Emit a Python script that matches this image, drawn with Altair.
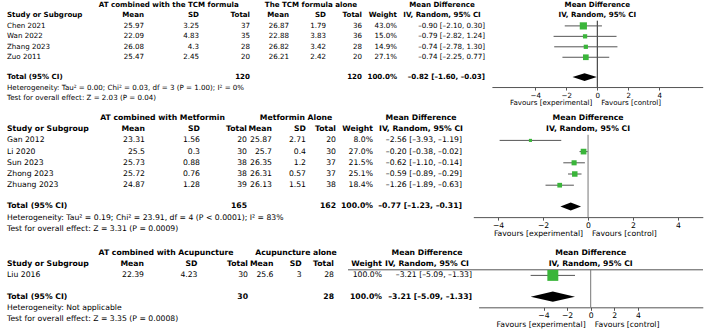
import altair as alt
import pandas as pd

FONT = "DejaVu Sans"
GREEN = "#3ab53a"
DASH = "\u2013"

# ---------------- Panel 1 data ----------------
p1_groups = ["AT combined with the TCM formula", "The TCM formula alone"]
p1_study = ["Chen 2021", "Wan 2022", "Zhang 2023", "Zuo 2011"]
p1_e_mean = [25.97, 22.09, 26.08, 25.47]
p1_e_sd = [3.25, 4.83, 4.3, 2.45]
p1_e_n = [37, 35, 28, 20]
p1_c_mean = [26.87, 22.88, 26.82, 26.21]
p1_c_sd = [1.79, 3.83, 3.42, 2.42]
p1_c_n = [36, 36, 28, 20]
p1_weight = [43.0, 15.0, 14.9, 27.1]
p1_md = [-0.90, -0.79, -0.74, -0.74]
p1_lo = [-2.10, -2.82, -2.78, -2.25]
p1_hi = [0.30, 1.24, 1.30, 0.77]
p1_tot_n = [120, 120]
p1_tot_ci = [-0.82, -1.60, -0.03]
p1_het = "Heterogeneity: Tau² = 0.00; Chi² = 0.03, df = 3 (P = 1.00); I² = 0%"
p1_test = "Test for overall effect: Z = 2.03 (P = 0.04)"

# ---------------- Panel 2 data ----------------
p2_groups = ["AT combined with Metformin", "Metformin Alone"]
p2_study = ["Gan 2012", "Li 2020", "Sun 2023", "Zhong 2023", "Zhuang 2023"]
p2_e_mean = [23.31, 25.5, 25.73, 25.72, 24.87]
p2_e_sd = [1.56, 0.3, 0.88, 0.76, 1.28]
p2_e_n = [20, 30, 38, 38, 39]
p2_c_mean = [25.87, 25.7, 26.35, 26.31, 26.13]
p2_c_sd = [2.71, 0.4, 1.2, 0.57, 1.51]
p2_c_n = [20, 30, 37, 37, 38]
p2_weight = [8.0, 27.0, 21.5, 25.1, 18.4]
p2_md = [-2.56, -0.20, -0.62, -0.59, -1.26]
p2_lo = [-3.93, -0.38, -1.10, -0.89, -1.89]
p2_hi = [-1.19, -0.02, -0.14, -0.29, -0.63]
p2_tot_n = [165, 162]
p2_tot_ci = [-0.77, -1.23, -0.31]
p2_het = "Heterogeneity: Tau² = 0.19; Chi² = 23.91, df = 4 (P < 0.0001); I² = 83%"
p2_test = "Test for overall effect: Z = 3.31 (P = 0.0009)"

# ---------------- Panel 3 data ----------------
p3_groups = ["AT combined with Acupuncture", "Acupuncture alone"]
p3_study = ["Liu 2016"]
p3_e_mean = [22.39]
p3_e_sd = [4.23]
p3_e_n = [30]
p3_c_mean = [25.6]
p3_c_sd = [3]
p3_c_n = [28]
p3_weight = [100.0]
p3_md = [-3.21]
p3_lo = [-5.09]
p3_hi = [-1.33]
p3_tot_n = [30, 28]
p3_tot_ci = [-3.21, -5.09, -1.33]
p3_het = "Heterogeneity: Not applicable"
p3_test = "Test for overall effect: Z = 3.35 (P = 0.0008)"

TICKS = [-4, -2, 0, 2, 4]

# ---------------- Layout / style (not data) ----------------
LAY1 = dict(H=110, off=5, s=10.45, fs=7.1,
            cols=dict(mean=144, sd=199, n=250, cmean=289, csd=326, cn=362, w=397, md=485),
            g1=168.7, g2=311, mdh=442, dom=6.8, rng=(491.9, 702.7), dia=0.38, sq=1.2,
            zc="#222", hline=False)
LAY2 = dict(H=133, off=8, s=11.2, fs=7.7,
            cols=dict(mean=145, sd=200, n=247, cmean=272, csd=306, cn=336, w=373, md=462),
            g1=162.5, g2=296, mdh=421, dom=5.1, rng=(473.3, 702.8), dia=0.36, sq=1.5,
            zc="#777", hline=False)
LAY3 = dict(H=88, off=10, s=11.2, fs=7.7,
            cols=dict(mean=144, sd=197.5, n=248, cmean=273.5, csd=301.7, cn=334, w=382, md=472),
            g1=166, g2=296, mdh=427, dom=9.5, rng=(478.6, 702.8), dia=0.46, sq=1.65,
            zc="#777", hline=True)


def num(v):
    return str(v).replace("-", DASH)


def ci_txt(m, l, h):
    return f"{m:.2f} [{l:.2f}, {h:.2f}]".replace("-", DASH)


def build_panel(groups, study, e_mean, e_sd, e_n, c_mean, c_sd, c_n, weight,
                md, lo, hi, tot_n, tot_ci, het, test, L):
    n = len(study)
    s, H, off, fs = L["s"], L["H"], L["off"], L["fs"]
    r_min, r_max = -off / s, (H - off) / s
    ysc = alt.Scale(domain=[r_min, r_max], range=[0, H], nice=False, zero=False)
    D = L["dom"]
    xsc = alt.Scale(domain=[-D, D], range=list(L["rng"]), nice=False, zero=False)
    r_tot = 2 + n + 0.9
    r_het = r_tot + 1
    r_test = r_het + 1
    r_axis = r_tot + 0.95
    r_fav = r_tot + 2.5
    C = L["cols"]

    AX = alt.Axis(values=TICKS, offset=(r_axis - r_max) * s, title=None, grid=False,
                  domainColor="#555", tickColor="#555", tickSize=3, domainWidth=1,
                  labelFont=FONT, labelFontSize=fs, labelColor="black", labelPadding=1)
    Y = lambda f: alt.Y(f, scale=ysc, axis=None)
    X = lambda f: alt.X(f, scale=xsc, axis=AX)

    cells = []
    cells += [(0, groups[0], L["g1"], "center", True),
              (0, groups[1], L["g2"], "center", True),
              (0, "Mean Difference", L["mdh"], "center", True)]
    cells += [(1, "Study or Subgroup", 7, "left", True),
              (1, "Mean", C["mean"], "right", True),
              (1, "SD", C["sd"], "right", True),
              (1, "Total", C["n"], "right", True),
              (1, "Mean", C["cmean"], "right", True),
              (1, "SD", C["csd"], "right", True),
              (1, "Total", C["cn"], "right", True),
              (1, "Weight", C["w"], "right", True),
              (1, "IV, Random, 95% CI", L["mdh"], "center", True)]
    for i in range(n):
        r = 2 + i
        cells += [(r, study[i], 7, "left", False),
                  (r, num(e_mean[i]), C["mean"], "right", False),
                  (r, num(e_sd[i]), C["sd"], "right", False),
                  (r, num(e_n[i]), C["n"], "right", False),
                  (r, num(c_mean[i]), C["cmean"], "right", False),
                  (r, num(c_sd[i]), C["csd"], "right", False),
                  (r, num(c_n[i]), C["cn"], "right", False),
                  (r, f"{weight[i]:.1f}%", C["w"], "right", False),
                  (r, ci_txt(md[i], lo[i], hi[i]), C["md"], "right", False)]
    cells += [(r_tot, "Total (95% CI)", 7, "left", True),
              (r_tot, num(tot_n[0]), C["n"], "right", True),
              (r_tot, num(tot_n[1]), C["cn"], "right", True),
              (r_tot, "100.0%", C["w"], "right", True),
              (r_tot, ci_txt(*tot_ci), C["md"], "right", True),
              (r_het, het, 7, "left", False),
              (r_test, test, 7, "left", False)]
    df = pd.DataFrame(cells, columns=["row", "text", "x", "align", "bold"])

    layers = []
    for (x, align, bold), g in df.groupby(["x", "align", "bold"]):
        layers.append(
            alt.Chart(g[["row", "text"]]).mark_text(
                align=align, baseline="middle", font=FONT, fontSize=fs,
                fontWeight="bold" if bold else "normal", color="black"
            ).encode(x=alt.value(float(x)), y=Y("row:Q"), text="text:N")
        )

    if L["hline"]:
        layers.append(
            alt.Chart(pd.DataFrame({"row": [1.5]})).mark_rule(color="#555", strokeWidth=1)
            .encode(x=alt.value(348), x2=alt.value(703), y=Y("row:Q"))
        )

    zd = pd.DataFrame({"x": [0.0], "y": [1.5], "y2": [r_axis]})
    layers.append(alt.Chart(zd).mark_rule(color=L["zc"], strokeWidth=1)
                  .encode(x=X("x:Q"), y=Y("y:Q"), y2="y2:Q"))

    fd = pd.DataFrame({"row": [2 + i for i in range(n)], "md": md, "lo": lo, "hi": hi, "w": weight})
    layers.append(alt.Chart(fd).mark_rule(color="#555", strokeWidth=1)
                  .encode(x=X("lo:Q"), x2="hi:Q", y=Y("row:Q")))
    layers.append(alt.Chart(fd).mark_square(color=GREEN, opacity=1)
                  .encode(x=X("md:Q"), y=Y("row:Q"),
                          size=alt.Size("w:Q", scale=alt.Scale(domain=[0, 100], range=[0, 100 * L["sq"]]),
                                        legend=None)))
    h = L["dia"]
    dd = pd.DataFrame({"x": [tot_ci[1], tot_ci[0], tot_ci[2]],
                       "y": [r_tot, r_tot - h, r_tot],
                       "y2": [r_tot, r_tot + h, r_tot]})
    layers.append(alt.Chart(dd).mark_area(color="black", opacity=1)
                  .encode(x=X("x:Q"), y=Y("y:Q"), y2="y2:Q"))

    hd = pd.DataFrame({"x": [0.0, 0.0], "row": [0, 1], "text": ["Mean Difference", "IV, Random, 95% CI"]})
    layers.append(alt.Chart(hd).mark_text(align="center", baseline="middle", font=FONT, fontSize=fs,
                                          fontWeight="bold", color="black")
                  .encode(x=X("x:Q"), y=Y("row:Q"), text="text:N"))
    fl = pd.DataFrame({"x": [0.0], "row": [r_fav], "text": ["Favours [experimental]"]})
    fr = pd.DataFrame({"x": [0.0], "row": [r_fav], "text": ["Favours [control]"]})
    layers.append(alt.Chart(fl).mark_text(align="right", baseline="middle", dx=-5, font=FONT,
                                          fontSize=fs, color="black")
                  .encode(x=X("x:Q"), y=Y("row:Q"), text="text:N"))
    layers.append(alt.Chart(fr).mark_text(align="left", baseline="middle", dx=4, font=FONT,
                                          fontSize=fs, color="black")
                  .encode(x=X("x:Q"), y=Y("row:Q"), text="text:N"))

    return alt.layer(*layers).properties(width=712, height=H)


p1 = build_panel(p1_groups, p1_study, p1_e_mean, p1_e_sd, p1_e_n, p1_c_mean, p1_c_sd, p1_c_n,
                 p1_weight, p1_md, p1_lo, p1_hi, p1_tot_n, p1_tot_ci, p1_het, p1_test, LAY1)
p2 = build_panel(p2_groups, p2_study, p2_e_mean, p2_e_sd, p2_e_n, p2_c_mean, p2_c_sd, p2_c_n,
                 p2_weight, p2_md, p2_lo, p2_hi, p2_tot_n, p2_tot_ci, p2_het, p2_test, LAY2)
p3 = build_panel(p3_groups, p3_study, p3_e_mean, p3_e_sd, p3_e_n, p3_c_mean, p3_c_sd, p3_c_n,
                 p3_weight, p3_md, p3_lo, p3_hi, p3_tot_n, p3_tot_ci, p3_het, p3_test, LAY3)

chart = alt.vconcat(p1, p2, p3, spacing=0, padding=0).configure_view(stroke=None)
chart.save("out.html", embed_options={"renderer": "svg", "actions": False})
